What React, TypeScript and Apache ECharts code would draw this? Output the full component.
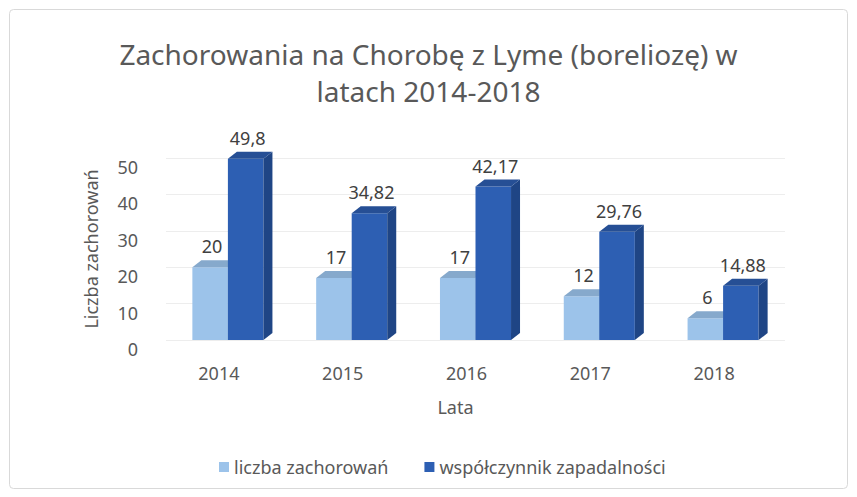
import React, { useEffect, useRef } from "react";
import * as echarts from "echarts";

const titleText = "Zachorowania na Chorobę z Lyme (boreliozę) w\nlatach 2014-2018";
const years = ["2014", "2015", "2016", "2017", "2018"];
const seriesNames = ["liczba zachorowań", "współczynnik zapadalności"];
const cases = [20, 17, 17, 12, 6];
const incidence = [49.8, 34.82, 42.17, 29.76, 14.88];
const yTicks = [0, 10, 20, 30, 40, 50];

const FONT = "'Noto Sans', 'Open Sans', sans-serif";

const palettes = [
  { front: "#9cc3ea", side: "#7ea6cf", top: "#86a9cc" },
  { front: "#2d5fb3", side: "#1f4585", top: "#264f95" },
];

const fmt = (v: number) => String(v).replace(".", ",");

function makeRender(seriesIdx: number) {
  return (params: any, api: any) => {
    const x = api.value(0);
    const y = api.value(1);
    const top = api.coord([x, y]);
    const base = api.coord([x, 0]);
    const band = api.size([1, 0])[0];
    const bw = band * 0.287;
    const dx = 9;
    const dy = 7;
    const x0 = seriesIdx === 0 ? top[0] - bw : top[0];
    const x1 = x0 + bw;
    const yt = top[1];
    const yb = base[1];
    const pal = palettes[seriesIdx];
    return {
      type: "group",
      children: [
        {
          type: "rect",
          shape: { x: x0, y: yt, width: bw, height: yb - yt },
          style: { fill: pal.front },
        },
        {
          type: "polygon",
          shape: { points: [[x1, yt], [x1 + dx, yt - dy], [x1 + dx, yb - dy], [x1, yb]] },
          style: { fill: pal.side },
        },
        {
          type: "polygon",
          shape: { points: [[x0, yt], [x0 + dx, yt - dy], [x1 + dx, yt - dy], [x1, yt]] },
          style: { fill: pal.top },
        },
        {
          type: "text",
          style: {
            text: fmt(y),
            x: (x0 + x1) / 2 + 2,
            y: yt - 21,
            align: "center",
            verticalAlign: "middle",
            fill: "#404040",
            font: `18px ${FONT}`,
          },
        },
      ],
    };
  };
}

export default function App() {
  const ref = useRef<HTMLDivElement>(null);
  useEffect(() => {
    document.body.style.margin = "0";
    const chart = echarts.init(ref.current!, null, { renderer: "svg" });
    chart.setOption({
      animation: false,
      backgroundColor: "#ffffff",
      title: {
        text: titleText,
        left: "center",
        top: 30,
        textStyle: {
          fontFamily: FONT,
          fontSize: 28,
          fontWeight: "normal",
          color: "#595959",
          lineHeight: 37,
        },
      },
      legend: {
        left: 214,
        top: 453,
        itemWidth: 10,
        itemHeight: 10,
        itemGap: 36,
        icon: "rect",
        data: seriesNames.map((n, i) => ({ name: n, itemStyle: { color: palettes[i].front } })),
        textStyle: { fontFamily: FONT, fontSize: 18, color: "#595959" },
      },
      graphic: [
        {
          type: "rect",
          shape: { x: 9.5, y: 9.5, width: 838, height: 479, r: 4 },
          style: { fill: "none", stroke: "#d9d9d9", lineWidth: 1 },
          silent: true,
        },
      ],
      grid: { left: 166, right: 72, top: 158, bottom: 157 },
      xAxis: {
        type: "category",
        data: years,
        axisLine: { show: false },
        axisTick: { show: false },
        name: "Lata",
        nameLocation: "middle",
        nameGap: 58,
        nameTextStyle: { fontFamily: FONT, fontSize: 18, color: "#595959", padding: [0, 40, 0, 0] },
        axisLabel: {
          margin: 24,
          fontFamily: FONT,
          fontSize: 18,
          color: "#595959",
          padding: [0, 18, 0, 0],
        },
      },
      yAxis: {
        type: "value",
        min: yTicks[0],
        max: yTicks[yTicks.length - 1],
        interval: 10,
        name: "Liczba zachorowań",
        nameLocation: "middle",
        nameGap: 66,
        nameTextStyle: { fontFamily: FONT, fontSize: 18, color: "#595959", padding: [0, 0, 0, 0] },
        axisLine: { show: false },
        axisTick: { show: false },
        splitLine: { lineStyle: { color: "#ededed" } },
        axisLabel: {
          margin: 28,
          fontFamily: FONT,
          fontSize: 18,
          color: "#595959",
          verticalAlign: "top",
        },
      },
      series: [
        {
          name: seriesNames[0],
          type: "custom",
          itemStyle: { color: palettes[0].front },
          renderItem: makeRender(0),
          data: years.map((_, i) => [i, cases[i]]),
          encode: { x: 0, y: 1 },
        },
        {
          name: seriesNames[1],
          type: "custom",
          itemStyle: { color: palettes[1].front },
          renderItem: makeRender(1),
          data: years.map((_, i) => [i, incidence[i]]),
          encode: { x: 0, y: 1 },
        },
      ],
    });
    return () => chart.dispose();
  }, []);
  return <div ref={ref} style={{ width: 857, height: 497 }} />;
}
